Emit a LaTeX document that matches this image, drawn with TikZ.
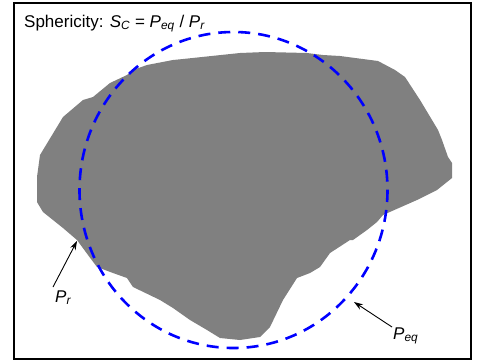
\documentclass[tikz,border=0pt]{standalone}
\usepackage{fontspec}
\setmainfont{Liberation Sans}
\usetikzlibrary{arrows.meta}
\tikzset{
  frame/.style={draw=black, line width=2pt},
  particle/.style={fill=black!50, draw=none},
  eqcircle/.style={draw=blue, line width=2.6pt, dash pattern=on 12pt off 8pt},
  lbl/.style={font=\fontsize{17}{20}\selectfont, inner sep=0pt},
  pointer/.style={-{Stealth[length=9pt,width=6pt]}, line width=0.9pt, shorten >=0pt}
}
\begin{document}
\begin{tikzpicture}[x=1pt,y=-1pt]
\useasboundingbox (0,0) rectangle (477,362);
\fill[white] (0,0) rectangle (477,362);
% particle outline
\path[particle] (63,117) -- (83,100) -- (93,97) -- (110,83) -- (127,75) -- (133,70)
 -- (147,65) -- (173,60) -- (183,59) -- (240,53) -- (265,52) -- (307,53) -- (323,55)
 -- (340,56) -- (378,61) -- (395,70) -- (405,77) -- (420,100) -- (432,120) -- (438,130)
 -- (442,140) -- (448,157) -- (452,163) -- (452,178) -- (437,190) -- (417,200)
 -- (383,215) -- (377,222) -- (367,230) -- (353,240) -- (350,240) -- (330,253)
 -- (320,267) -- (310,273) -- (297,278) -- (283,300) -- (270,327) -- (260,337)
 -- (240,340) -- (220,338) -- (207,330) -- (190,320) -- (173,308) -- (160,300)
 -- (133,287) -- (127,278) -- (113,273) -- (97,267) -- (88,255) -- (77,240)
 -- (63,228) -- (43,212) -- (37,202) -- (37,177) -- (40,155) -- cycle;
% equivalent circle
\draw[eqcircle] (233.5,190) ellipse [x radius=154, y radius=158];
% frame
\draw[frame] (14,3) rectangle (471,359);
% title
\node[lbl, anchor=base west] (title) at (24,27)
  {Sphericity: \textit{S}\textsubscript{\textit{C}} = \textit{P}\textsubscript{\textit{eq}} / \textit{P}\textsubscript{\textit{r}}};
% labels and pointers
\node[lbl, anchor=base west] (pr) at (55,302) {\textit{P}\textsubscript{\textit{r}}};
\node[lbl, anchor=base west] (peq) at (393,339) {\textit{P}\textsubscript{\textit{eq}}};
\coordinate (prtip) at (77,241);
\coordinate (peqtip) at (354,302);
\coordinate (prtail) at (53,287);
\coordinate (peqtail) at (392,327);
\draw[pointer] (prtail) -- (prtip);
\draw[pointer] (peqtail) -- (peqtip);
\end{tikzpicture}
\end{document}
